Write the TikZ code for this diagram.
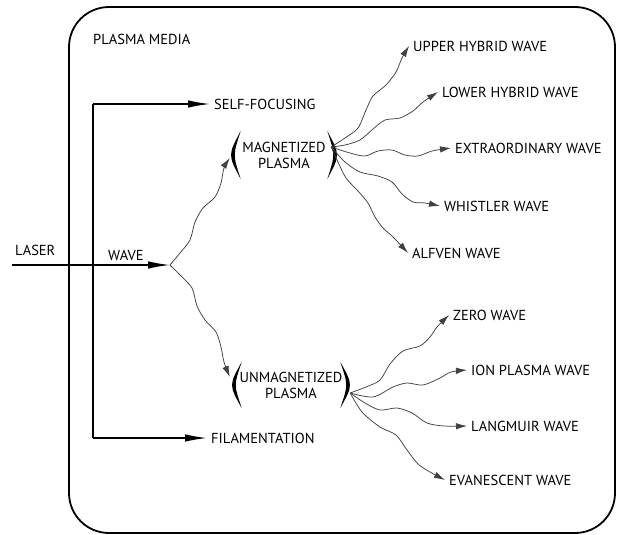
\documentclass[tikz,border=0pt]{standalone}
\usepackage{fontspec}
\setmainfont{PT Sans}
\usetikzlibrary{arrows.meta,calc}
\tikzset{
  lbl/.style={anchor=west,inner xsep=4pt,inner ysep=1pt,font=\fontsize{14.5}{15}\selectfont},
  plasma/.style={align=center,inner sep=0pt,font=\fontsize{14.5}{16}\selectfont},
  mainarr/.style={line width=1.4pt,-{Latex[length=22pt,width=7.5pt]}},
  mainline/.style={line width=1.4pt},
  wavy/.style={draw=black!75,line width=0.75pt,-{Latex[length=11pt,width=6.5pt]}},
  paren/.style={fill=black},
  frame/.style={line width=1.8pt,rounded corners=40pt}
}
\begin{document}
\begin{tikzpicture}[x=1pt,y=-1pt]
\useasboundingbox (0,0) rectangle (618,535);
\draw[frame] (69,7) rectangle (615,533);
\node[lbl] (media) at (89,39) {PLASMA MEDIA};
\node[lbl] (laser) at (11,250) {LASER};
\node[lbl] (wave) at (104,255) {WAVE};
\coordinate (start) at (12,265);
\coordinate (split) at (170,265);
\coordinate (vtop) at (93,104);
\coordinate (vbot) at (93,438);
\node[lbl] (sf) at (210,104) {SELF-FOCUSING};
\node[lbl] (fil) at (207,438) {FILAMENTATION};
\draw[mainarr] (start) -- (split);
\draw[mainline] (vtop) -- (vbot);
\draw[mainarr] (vtop) -- (sf.west);
\draw[mainarr] (vbot) -- (fil.west);
% plasma nodes
\node[plasma,minimum width=100pt,minimum height=48pt] (mag) at (284,155) {MAGNETIZED\\PLASMA};
\node[plasma,minimum width=112pt,minimum height=46pt] (unmag) at (291,385) {UNMAGNETIZED\\PLASMA};
\fill[paren] ($(mag.north west)+(7,0)$) .. controls ($(mag.west)+(-6,0)$) .. ($(mag.south west)+(7,0)$)
  .. controls ($(mag.west)+(-1,0)$) .. cycle;
\fill[paren] ($(mag.north east)+(-7,0)$) .. controls ($(mag.east)+(6,0)$) .. ($(mag.south east)+(-7,0)$)
  .. controls ($(mag.east)+(1,0)$) .. cycle;
\fill[paren] ($(unmag.north west)+(7,0)$) .. controls ($(unmag.west)+(-6,0)$) .. ($(unmag.south west)+(7,0)$)
  .. controls ($(unmag.west)+(-1,0)$) .. cycle;
\fill[paren] ($(unmag.north east)+(-7,0)$) .. controls ($(unmag.east)+(6,0)$) .. ($(unmag.south east)+(-7,0)$)
  .. controls ($(unmag.east)+(1,0)$) .. cycle;
\coordinate (mtip) at ($(mag.west)+(-4,3)$);
\coordinate (utip) at ($(unmag.west)+(-5,-8)$);
\draw[wavy] plot[smooth] coordinates {(split) (180,253) (190,240) (195,222) (203,208) (215,197) (221,183) (224,168) (mtip)};
\draw[wavy] plot[smooth] coordinates {(split) (180,275) (192,288) (197,306) (205,320) (216,332) (221,347) (224,362) (utip)};
% magnetized branches
\coordinate (msrc) at ($(mag.east)+(-3,-8)$);
\node[lbl] (upper) at (409,46) {UPPER HYBRID WAVE};
\node[lbl] (lower) at (438,92) {LOWER HYBRID WAVE};
\node[lbl] (extra) at (451,148) {EXTRAORDINARY WAVE};
\node[lbl] (whist) at (440,206) {WHISTLER WAVE};
\node[lbl] (alfven) at (408,253) {ALFVEN WAVE};
\draw[wavy] plot[smooth] coordinates {(msrc) (345,138) (358,128) (366,110) (373,96) (386,85) (396,72) (402,58) (upper.west)};
\draw[wavy] plot[smooth] coordinates {(msrc) (345,145) (360,140) (373,129) (385,120) (400,118) (413,111) (423,102) (lower.west)};
\draw[wavy] plot[smooth] coordinates {(msrc) (350,153) (365,156) (378,151) (392,150) (405,155) (418,156) (432,151) (extra.west)};
\draw[wavy] plot[smooth] coordinates {(msrc) (345,162) (360,172) (378,176) (392,182) (402,194) (413,202) (425,203) (whist.west)};
\draw[wavy] plot[smooth] coordinates {(msrc) (338,162) (346,178) (358,191) (368,203) (375,217) (383,228) (393,237) (alfven.west)};
% unmagnetized branches
\coordinate (usrc) at ($(unmag.east)+(3,8)$);
\node[lbl] (zero) at (449,315) {ZERO WAVE};
\node[lbl] (ion) at (467,370) {ION PLASMA WAVE};
\node[lbl] (lang) at (467,426) {LANGMUIR WAVE};
\node[lbl] (evan) at (445,480) {EVANESCENT WAVE};
\draw[wavy] plot[smooth] coordinates {(usrc) (366,387) (380,380) (390,364) (403,351) (420,346) (430,337) (437,327) (zero.west)};
\draw[wavy] plot[smooth] coordinates {(usrc) (373,397) (393,387) (407,383) (423,385) (440,378) (451,372) (ion.west)};
\draw[wavy] plot[smooth] coordinates {(usrc) (365,403) (380,410) (397,408) (412,413) (427,423) (444,426) (lang.west)};
\draw[wavy] plot[smooth] coordinates {(usrc) (362,412) (380,427) (396,435) (407,450) (418,464) (430,472) (evan.west)};
\end{tikzpicture}
\end{document}
